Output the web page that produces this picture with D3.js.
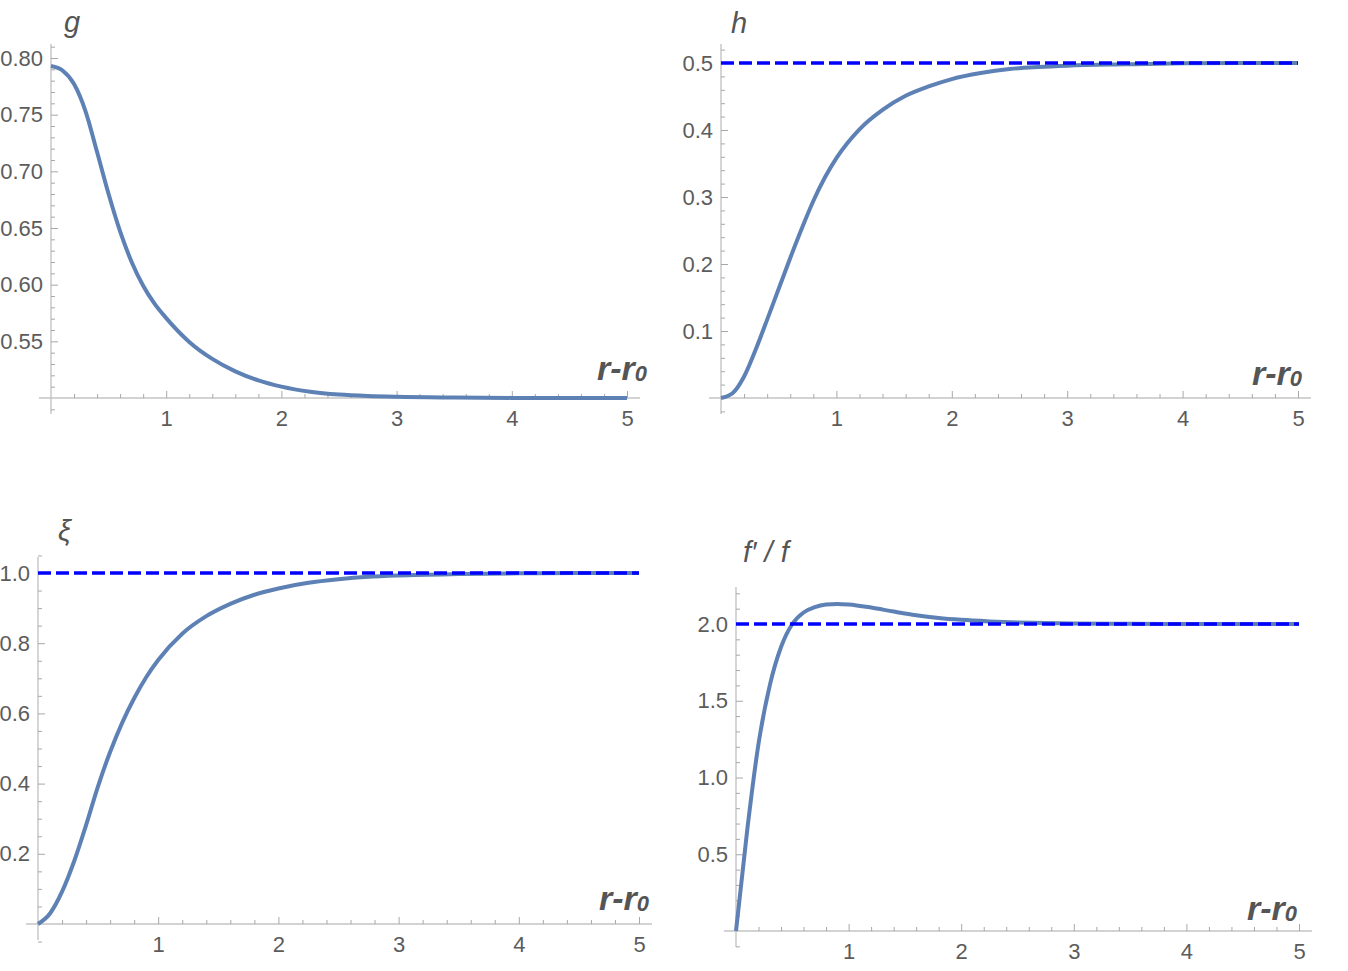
<!DOCTYPE html>
<html>
<head>
<meta charset="utf-8">
<script src="https://cdn.jsdelivr.net/npm/d3@7"></script>
<style>
  body { margin: 0; background: #fff; }
  svg { display: block; }
  .tick text { font-family: "Liberation Sans", Arial, sans-serif; font-size: 22px; fill: #5c5c5c; }
  .lab { font-family: "Liberation Sans", Arial, sans-serif; font-style: italic; fill: #555; }
</style>
</head>
<body>
<svg id="chart" width="1348" height="971"></svg>
<script>
// r - r0 sample points shared by the four curves
var rVals  = [0, 0.1, 0.2, 0.3, 0.4, 0.5, 0.6, 0.7, 0.8, 0.9, 1.0, 1.2, 1.4, 1.6, 1.8, 2.0, 2.25, 2.5, 2.75, 3.0, 3.5, 4.0, 4.5, 5.0];
var gVals  = [0.793, 0.789, 0.777, 0.753, 0.717, 0.680, 0.647, 0.620, 0.599, 0.583, 0.5705, 0.5495, 0.5345, 0.5235, 0.5155, 0.5100, 0.5055, 0.503, 0.5017, 0.501, 0.5004, 0.5001, 0.5, 0.5];
var hVals  = [0, 0.007, 0.032, 0.072, 0.117, 0.163, 0.209, 0.253, 0.294, 0.329, 0.358, 0.401, 0.43, 0.451, 0.465, 0.476, 0.485, 0.491, 0.494, 0.496, 0.498, 0.4995, 0.5, 0.5];
var xiVals = [0, 0.03, 0.092, 0.178, 0.282, 0.393, 0.49, 0.573, 0.643, 0.703, 0.752, 0.827, 0.877, 0.912, 0.938, 0.956, 0.972, 0.982, 0.989, 0.993, 0.997, 0.999, 1.0, 1.0];
var fVals  = [0, 0.66, 1.22, 1.6, 1.85, 2.0, 2.075, 2.11, 2.127, 2.131, 2.127, 2.107, 2.081, 2.057, 2.039, 2.027, 2.017, 2.01, 2.006, 2.004, 2.001, 2.0, 2.0, 2.0];

// asymptotes (dashed)
var hLimit = 0.5, xiLimit = 1.0, fLimit = 2.0;

// tick labels
var xTicks  = [1, 2, 3, 4, 5];
var gTicks  = [0.55, 0.60, 0.65, 0.70, 0.75, 0.80];
var hTicks  = [0.1, 0.2, 0.3, 0.4, 0.5];
var xiTicks = [0.2, 0.4, 0.6, 0.8, 1.0];
var fTicks  = [0.5, 1.0, 1.5, 2.0];

var svg = d3.select("#chart");

var panels = [
  { vals: gVals, limit: null, yDom: [0.5, 0.8], ticks: gTicks, fmt: ".2f", minor: [0.49, 0.81, 0.01],
    x0: 51, x5: 627, yLo: 398, yHi: 58, top: 44, ylab: "g", ylx: 64, yly: 32, xlx: 597, xly: 380 },
  { vals: hVals, limit: hLimit, yDom: [0, 0.5], ticks: hTicks, fmt: ".1f", minor: [-0.02, 0.52, 0.02],
    x0: 721, x5: 1298, yLo: 398, yHi: 63, top: 44, ylab: "h", ylx: 731, yly: 33, xlx: 1252, xly: 385 },
  { vals: xiVals, limit: xiLimit, yDom: [0, 1], ticks: xiTicks, fmt: ".1f", minor: [-0.05, 1.05, 0.05],
    x0: 38, x5: 639, yLo: 924, yHi: 573, top: 557, ylab: "ξ", ylx: 58, yly: 541, xlx: 599, xly: 910 },
  { vals: fVals, limit: fLimit, yDom: [0, 2], ticks: fTicks, fmt: ".1f", minor: [-0.1, 2.2, 0.1],
    x0: 736, x5: 1299, yLo: 931, yHi: 624, top: 587, ylab: "f′ / f", ylx: 743, yly: 562, xlx: 1247, xly: 920 }
];

panels.forEach(function(p) {
  var x = d3.scaleLinear().domain([0, 5]).range([p.x0, p.x5]);
  var y = d3.scaleLinear().domain(p.yDom).range([p.yLo, p.yHi]);
  var g = svg.append("g");

  // axis lines
  g.append("line").attr("x1", p.x0 - 12).attr("x2", p.x5 + 13)
    .attr("y1", p.yLo).attr("y2", p.yLo).attr("stroke", "#c4c4c4").attr("stroke-width", 1.4);
  g.append("line").attr("x1", p.x0).attr("x2", p.x0)
    .attr("y1", p.top).attr("y2", p.yLo + 16).attr("stroke", "#c4c4c4").attr("stroke-width", 1.4);

  // x ticks
  var xMinor = d3.range(0.2, 5.0, 0.2).filter(function(v) { return Math.abs(v - Math.round(v)) > 1e-6; });
  g.append("g").attr("transform", "translate(0," + p.yLo + ")")
    .call(d3.axisBottom(x).tickValues(xTicks).tickSizeInner(-7).tickSizeOuter(0).tickPadding(12).tickFormat(d3.format("d")));
  g.append("g").attr("transform", "translate(0," + p.yLo + ")")
    .call(d3.axisBottom(x).tickValues(xMinor).tickSizeInner(-4).tickSizeOuter(0).tickFormat(""));

  // y ticks
  var yMinor = d3.range(p.minor[0], p.minor[1] + 1e-9, p.minor[2]).filter(function(v) {
    return !p.ticks.some(function(t) { return Math.abs(t - v) < 1e-6; }) && Math.abs(v - p.yDom[0]) > 1e-6;
  });
  g.append("g").attr("transform", "translate(" + p.x0 + ",0)")
    .call(d3.axisLeft(y).tickValues(p.ticks).tickSizeInner(-7).tickSizeOuter(0).tickPadding(8).tickFormat(d3.format(p.fmt)));
  g.append("g").attr("transform", "translate(" + p.x0 + ",0)")
    .call(d3.axisLeft(y).tickValues(yMinor).tickSizeInner(-4).tickSizeOuter(0).tickFormat(""));

  g.selectAll(".domain").remove();
  g.selectAll(".tick line").attr("stroke", "#a8a8a8").attr("stroke-width", 1);

  // curve
  var line = d3.line()
    .x(function(d, i) { return x(rVals[i]); })
    .y(function(d) { return y(d); })
    .curve(d3.curveMonotoneX);
  g.append("path").datum(p.vals).attr("d", line)
    .attr("fill", "none").attr("stroke", "#5e81b5").attr("stroke-width", 4).attr("stroke-linejoin", "round");

  // asymptote
  if (p.limit !== null) {
    g.append("line").attr("x1", x(0)).attr("x2", x(5))
      .attr("y1", y(p.limit)).attr("y2", y(p.limit))
      .attr("stroke", "#0000ff").attr("stroke-width", 3.5).attr("stroke-dasharray", "13,5");
  }

  // labels
  g.append("text").attr("class", "lab").attr("x", p.ylx).attr("y", p.yly)
    .attr("font-size", 29).text(p.ylab);
  var xl = g.append("text").attr("class", "lab").attr("x", p.xlx).attr("y", p.xly)
    .attr("font-size", 34).attr("font-weight", "bold").attr("fill", "#5a5a5a");
  xl.append("tspan").text("r-r");
  xl.append("tspan").attr("font-size", 22).attr("dy", 1).text("0");
});
</script>
</body>
</html>
